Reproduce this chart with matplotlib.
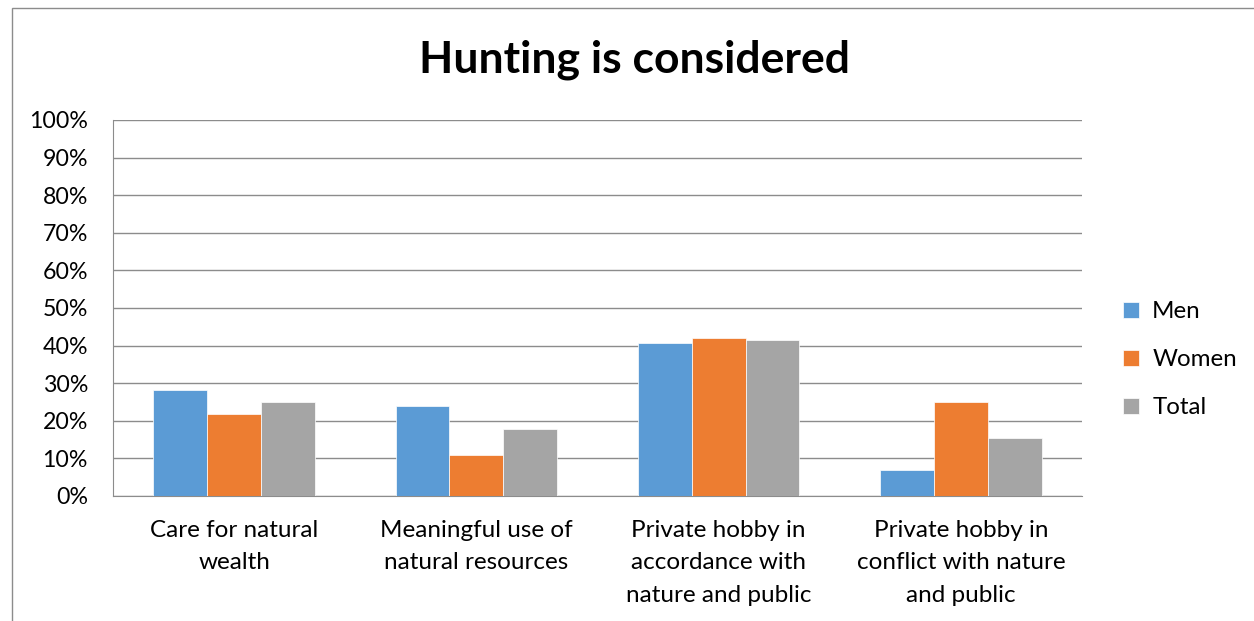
import numpy as np
import matplotlib.pyplot as plt
from matplotlib.patches import Rectangle
from matplotlib.ticker import PercentFormatter

categories = [
    "Care for natural\nwealth",
    "Meaningful use of\nnatural resources",
    "Private hobby in\naccordance with\nnature and public",
    "Private hobby in\nconflict with nature\nand public",
]
series_names = ["Men", "Women", "Total"]
men = [28.1, 23.9, 40.7, 6.8]
women = [21.8, 10.9, 42.1, 24.9]
total = [25.1, 17.7, 41.4, 15.5]
colors = ["#5B9BD5", "#ED7D31", "#A5A5A5"]

plt.rcParams["font.family"] = ["Lato", "DejaVu Sans"]

fig = plt.figure(figsize=(12.54, 6.21), dpi=100)
ax = fig.add_axes([113 / 1254, 1 - 496 / 621, 969 / 1254, 376 / 621])

# chart area border (cropped Excel chart)
fig.patches.append(Rectangle((12 / 1254, -0.1), 1.2, 1 - 8 / 621 + 0.1,
                             transform=fig.transFigure, fill=False,
                             edgecolor="#8C8C8C", linewidth=1.0))

x = np.arange(len(categories))
w = 1 / 4.5
for i, (vals, name) in enumerate(zip([men, women, total], series_names)):
    ax.bar(x + (i - 1) * w, vals, width=w, color=colors[i], label=name,
           edgecolor="white", linewidth=0.5, zorder=3)

ax.set_xlim(-0.5, len(categories) - 0.5)
ax.set_ylim(0, 100)
ax.set_yticks(np.arange(0, 101, 10))
ax.yaxis.set_major_formatter(PercentFormatter(decimals=0))
ax.set_xticks(x)
ax.set_xticklabels(categories, fontsize=17.5, linespacing=1.68)
ax.tick_params(axis="y", length=0, pad=18, labelsize=16.7)
ax.tick_params(axis="x", length=0, pad=17)
ax.grid(axis="y", color="#8C8C8C", linewidth=1.0, zorder=0)
for s in ["top", "right"]:
    ax.spines[s].set_visible(False)
ax.spines["left"].set_color("#8C8C8C")
ax.spines["bottom"].set_color("#8C8C8C")

fig.text(634 / 1254, 1 - 60 / 621, "Hunting is considered", ha="center",
         va="center", fontsize=32, fontweight="bold")

ax.legend(loc="center left", bbox_to_anchor=(1.02, 0.362), frameon=False,
          fontsize=17.4, handlelength=0.65, handleheight=0.65,
          handletextpad=0.55, labelspacing=1.12)

fig.savefig("out.png", dpi=100)
